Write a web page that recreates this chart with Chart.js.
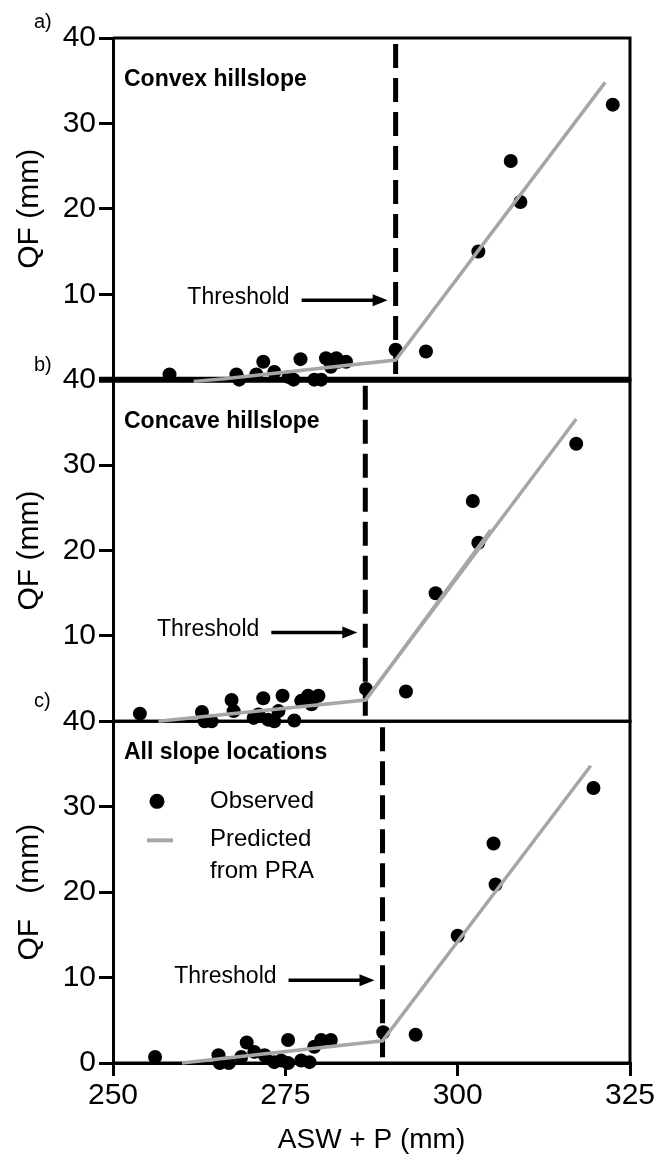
<!DOCTYPE html>
<html>
<head>
<meta charset="utf-8">
<script src="https://cdn.jsdelivr.net/npm/chart.js@4.4.1/dist/chart.umd.min.js"></script>
<style>
  html, body { margin: 0; padding: 0; background: #fff; }
  #wrap { width: 658px; height: 1172px; }
</style>
</head>
<body>
<div id="wrap"><canvas id="mainChart" width="658" height="1172"></canvas></div>
<script>
// x = ASW + P (mm), y = QF (mm)
const xTicks = [250, 275, 300, 325];
const yTicks = [0, 10, 20, 30, 40];

// a) convex hillslope
const convexObsX = [258.2, 267.9, 268.3, 270.8, 271.8, 273.4, 275.5, 276.2, 277.2, 279.2, 280.2, 280.9, 281.6, 282.4, 282.7, 283.8, 291.0, 295.4, 303.0, 307.7, 309.1, 322.5];
const convexObsY = [0.6, 0.6, 0.0, 0.6, 2.1, 0.9, 0.3, 0.0, 2.4, 0.0, 0.0, 2.5, 1.5, 2.5, 2.1, 2.1, 3.5, 3.3, 15.0, 25.6, 20.8, 32.2];
const convexPredX = [261.7, 266.2, 291.0, 321.4];
const convexPredY = [-0.2, 0.1, 2.3, 34.8];

// b) concave hillslope
const concaveObsX = [253.9, 262.9, 263.3, 264.3, 267.2, 267.5, 270.4, 271.1, 271.8, 272.5, 273.4, 274.0, 274.6, 276.3, 277.3, 278.3, 278.8, 279.8, 286.7, 292.5, 296.8, 302.2, 303.0, 317.2];
const concaveObsY = [0.9, 1.1, 0.0, 0.0, 2.5, 1.2, 0.4, 0.8, 2.7, 0.2, 0.0, 1.2, 3.0, 0.1, 2.4, 3.0, 2.0, 3.0, 3.8, 3.5, 15.0, 25.8, 20.9, 32.5];
const concavePredX = [256.6, 286.6, 317.2];
const concavePredY = [0.0, 2.5, 35.4];
const concavePred2X = [286.6, 304.8];
const concavePred2Y = [2.4, 22.4];

// c) all slope locations
const allObsX = [256.1, 265.3, 265.5, 266.8, 268.6, 269.4, 270.5, 272.0, 273.4, 274.4, 275.4, 275.4, 277.3, 278.5, 279.2, 280.2, 281.6, 289.2, 293.9, 300.0, 305.2, 305.5, 319.7];
const allObsY = [0.7, 0.9, 0.0, 0.0, 0.7, 2.4, 1.3, 0.9, 0.1, 0.3, 2.7, 0.0, 0.3, 0.1, 1.9, 2.7, 2.7, 3.6, 3.3, 14.9, 25.7, 20.9, 32.2];
const allPredX = [260.0, 289.1, 319.3];
const allPredY = [0.0, 2.6, 34.8];

const thresholds = [291.0, 286.6, 289.1];
const arrowLevels = [9.3, 10.4, 9.7];
const panelTitles = ["Convex hillslope", "Concave hillslope", "All slope locations"];
const panelTags = ["a)", "b)", "c)"];

const FONT = "'Liberation Sans', Arial, sans-serif";
const PRED_COLOR = "#a6a6a6";

function pts(xs, ys) {
  return xs.map((x, i) => ({ x: x, y: ys[i] }));
}

function obsSet(xs, ys, axis) {
  return {
    type: "scatter",
    data: pts(xs, ys),
    yAxisID: axis,
    backgroundColor: "#000",
    borderWidth: 0,
    pointRadius: 7,
    clip: false,
    order: 2,
  };
}

function predSet(xs, ys, axis) {
  return {
    type: "scatter",
    data: pts(xs, ys),
    yAxisID: axis,
    showLine: true,
    borderColor: PRED_COLOR,
    borderWidth: 3.5,
    pointRadius: 0,
    clip: false,
    order: 1,
  };
}

function yScale(title, hideZero) {
  return {
    type: "linear",
    position: "left",
    stack: "panels",
    stackWeight: 1,
    min: 0,
    max: 40,
    afterBuildTicks: (s) => { s.ticks = yTicks.map((v) => ({ value: v })); },
    afterFit: (s) => { s.width = 113; },
    ticks: {
      color: "#000",
      font: { size: 30, family: FONT },
      padding: 3,
      callback: (v) => (hideZero && v === 0 ? "" : v),
    },
    grid: { drawOnChartArea: false, color: "#000", lineWidth: 3, tickLength: 14 },
    border: { color: "#000", width: 3 },
    title: {
      display: true,
      text: title,
      color: "#000",
      font: { size: 30, family: FONT },
      padding: { top: 12, bottom: 0 },
    },
  };
}

const panels = [
  { axis: "yA", titleDy: 42, tagDy: -16 },
  { axis: "yB", titleDy: 42, tagDy: -14 },
  { axis: "yC", titleDy: 31, tagDy: -20 },
];

const decorPlugin = {
  id: "decor",
  beforeDatasetsDraw(chart) {
    const ctx = chart.ctx;
    const xs = chart.scales.x;
    ctx.save();
    panels.forEach((p, i) => {
      const ys = chart.scales[p.axis];
      ctx.strokeStyle = "#000";
      ctx.setLineDash([]);
      ctx.lineWidth = 3;
      ctx.beginPath();
      ctx.moveTo(xs.left, ys.top);
      ctx.lineTo(xs.right, ys.top);
      ctx.lineTo(xs.right, ys.bottom);
      ctx.lineTo(xs.left, ys.bottom);
      ctx.stroke();

      // threshold
      const tx = xs.getPixelForValue(thresholds[i]);
      ctx.lineWidth = 5;
      ctx.setLineDash([24, 10]);
      ctx.beginPath();
      ctx.moveTo(tx, ys.top + 6);
      ctx.lineTo(tx, ys.bottom);
      ctx.stroke();
    });
    // thicker separator between a) and b)
    ctx.setLineDash([]);
    ctx.lineWidth = 6;
    ctx.beginPath();
    ctx.moveTo(xs.left - 14, chart.scales.yA.bottom);
    ctx.lineTo(xs.right, chart.scales.yA.bottom);
    ctx.stroke();
    ctx.restore();
  },
  afterDatasetsDraw(chart) {
    const ctx = chart.ctx;
    const xs = chart.scales.x;
    ctx.save();
    ctx.fillStyle = "#000";
    ctx.strokeStyle = "#000";
    panels.forEach((p, i) => {
      const ys = chart.scales[p.axis];
      // panel title
      ctx.font = "bold 23px " + FONT;
      ctx.textAlign = "left";
      ctx.textBaseline = "middle";
      ctx.fillText(panelTitles[i], xs.left + 11, ys.top + p.titleDy);

      // panel tag
      ctx.font = "20px " + FONT;
      ctx.fillText(panelTags[i], 34, ys.top + p.tagDy);

      // threshold arrow
      const tx = xs.getPixelForValue(thresholds[i]);
      const ay = ys.getPixelForValue(arrowLevels[i]);
      const end = tx - 8;
      const start = end - 86;
      ctx.lineWidth = 3.5;
      ctx.beginPath();
      ctx.moveTo(start, ay);
      ctx.lineTo(end - 12, ay);
      ctx.stroke();
      ctx.beginPath();
      ctx.moveTo(end, ay);
      ctx.lineTo(end - 15, ay - 6);
      ctx.lineTo(end - 15, ay + 6);
      ctx.closePath();
      ctx.fill();
      ctx.font = "23px " + FONT;
      ctx.textAlign = "right";
      ctx.fillText("Threshold", start - 12, ay - 3);
    });

    // legend inside panel c
    const yc = chart.scales.yC;
    const lx = xs.left;
    ctx.beginPath();
    ctx.arc(lx + 44, yc.top + 80, 7.5, 0, Math.PI * 2);
    ctx.fill();
    ctx.strokeStyle = PRED_COLOR;
    ctx.lineWidth = 4;
    ctx.beginPath();
    ctx.moveTo(lx + 34, yc.top + 119);
    ctx.lineTo(lx + 60, yc.top + 119);
    ctx.stroke();
    ctx.font = "24px " + FONT;
    ctx.textAlign = "left";
    ctx.fillText("Observed", lx + 97, yc.top + 80);
    ctx.fillText("Predicted", lx + 97, yc.top + 118);
    ctx.fillText("from PRA", lx + 97, yc.top + 150);
    ctx.restore();
  },
};

const ctx = document.getElementById("mainChart").getContext("2d");
const chart = new Chart(ctx, {
  data: {
    datasets: [
      obsSet(convexObsX, convexObsY, "yA"),
      predSet(convexPredX, convexPredY, "yA"),
      obsSet(concaveObsX, concaveObsY, "yB"),
      predSet(concavePredX, concavePredY, "yB"),
      predSet(concavePred2X, concavePred2Y, "yB"),
      obsSet(allObsX, allObsY, "yC"),
      predSet(allPredX, allPredY, "yC"),
    ],
  },
  options: {
    responsive: false,
    animation: false,
    devicePixelRatio: 1,
    layout: { padding: { top: 38, right: 28, bottom: 0, left: 0 } },
    plugins: { legend: { display: false }, tooltip: { enabled: false } },
    scales: {
      x: {
        type: "linear",
        position: "bottom",
        min: 250,
        max: 325,
        afterBuildTicks: (s) => { s.ticks = xTicks.map((v) => ({ value: v })); },
        afterFit: (s) => { s.height = 109; },
        ticks: { color: "#000", font: { size: 30, family: FONT }, padding: 2 },
        grid: { drawOnChartArea: false, color: "#000", lineWidth: 3, tickLength: 13 },
        border: { color: "#000", width: 3 },
        title: {
          display: true,
          text: "ASW + P (mm)",
          color: "#000",
          font: { size: 28, family: FONT },
          padding: { top: 0, bottom: 15 },
        },
      },
      yC: yScale("QF   (mm)", false),
      yB: yScale("QF (mm)", true),
      yA: yScale("QF (mm)", true),
    },
  },
  plugins: [decorPlugin],
});
</script>
</body>
</html>
